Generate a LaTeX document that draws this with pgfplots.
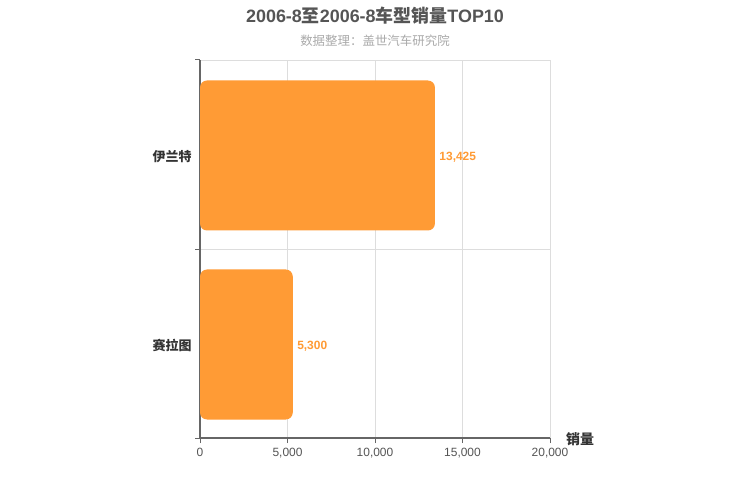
\documentclass[border=0pt]{standalone}
\usepackage{fontspec}
\setmainfont{Liberation Sans}
\newfontfamily\cjk{Noto Sans CJK SC}
\usepackage{pgfplots}
\pgfplotsset{compat=1.18}
\definecolor{barorange}{HTML}{FF9B35}
\definecolor{titlegray}{HTML}{555555}
\definecolor{subgray}{HTML}{AAAAAA}
\definecolor{labelgray}{HTML}{333333}
\definecolor{axisgray}{HTML}{666666}
\definecolor{gridgray}{HTML}{DDDDDD}
\begin{document}
\begin{tikzpicture}
\path[use as bounding box, fill=white] (0bp,0bp) rectangle (750bp,500bp);
\node[font=\bfseries\fontsize{18}{20}\selectfont, text=titlegray] at (375bp,484bp)
  {2006-8{\cjk\bfseries 至}2006-8{\cjk\bfseries 车型销量}TOP10};
\node[font=\cjk\fontsize{12.5}{14}\selectfont, text=subgray] at (375bp,459bp)
  {数据整理：盖世汽车研究院};
\node[font=\cjk\bfseries\fontsize{14}{16}\selectfont, text=labelgray] at (580bp,61bp) {销量};
\begin{axis}[
  at={(200bp,62bp)}, anchor=south west,
  scale only axis, width=350bp, height=378bp,
  xbar, bar width=150bp,
  xmin=0, xmax=20000, ymin=-0.5, ymax=1.5,
  axis x line*=bottom, axis y line*=left,
  axis line style={draw=axisgray, line width=1.1pt, -},
  xtick={0,5000,10000,15000,20000},
  scaled ticks=false,
  xticklabel style={/pgf/number format/1000 sep={,}, font=\fontsize{12}{14}\selectfont, text=titlegray, yshift=-1.5bp},
  /pgf/number format/assume math mode=true,
  ytick={0,1},
  yticklabels={{\cjk\bfseries 赛拉图},{\cjk\bfseries 伊兰特}},
  yticklabel style={font=\fontsize{13}{15}\selectfont, text=labelgray, yshift=-2bp},
  minor ytick={-0.5,0.5,1.5},
  major y tick style={draw=none},
  tick align=outside,
  major tick length=5bp, minor tick length=5bp,
  tick style={draw=axisgray, line width=1pt},
  xmajorgrids, yminorgrids,
  grid style={draw=gridgray, line width=0.8pt},
  minor grid style={draw=gridgray, line width=0.8pt},
  point meta=x,
  nodes near coords={\pgfmathprintnumber[1000 sep={,}]{\pgfplotspointmeta}},
  nodes near coords style={font=\bfseries\fontsize{12}{14}\selectfont, text=barorange, anchor=west, xshift=1bp, yshift=-2bp},
  clip=false,
]
\addplot[fill=barorange, draw=none, rounded corners=7bp, bar shift=-1bp] coordinates {(5300,0) (13425,1)};
\end{axis}
\end{tikzpicture}
\end{document}
